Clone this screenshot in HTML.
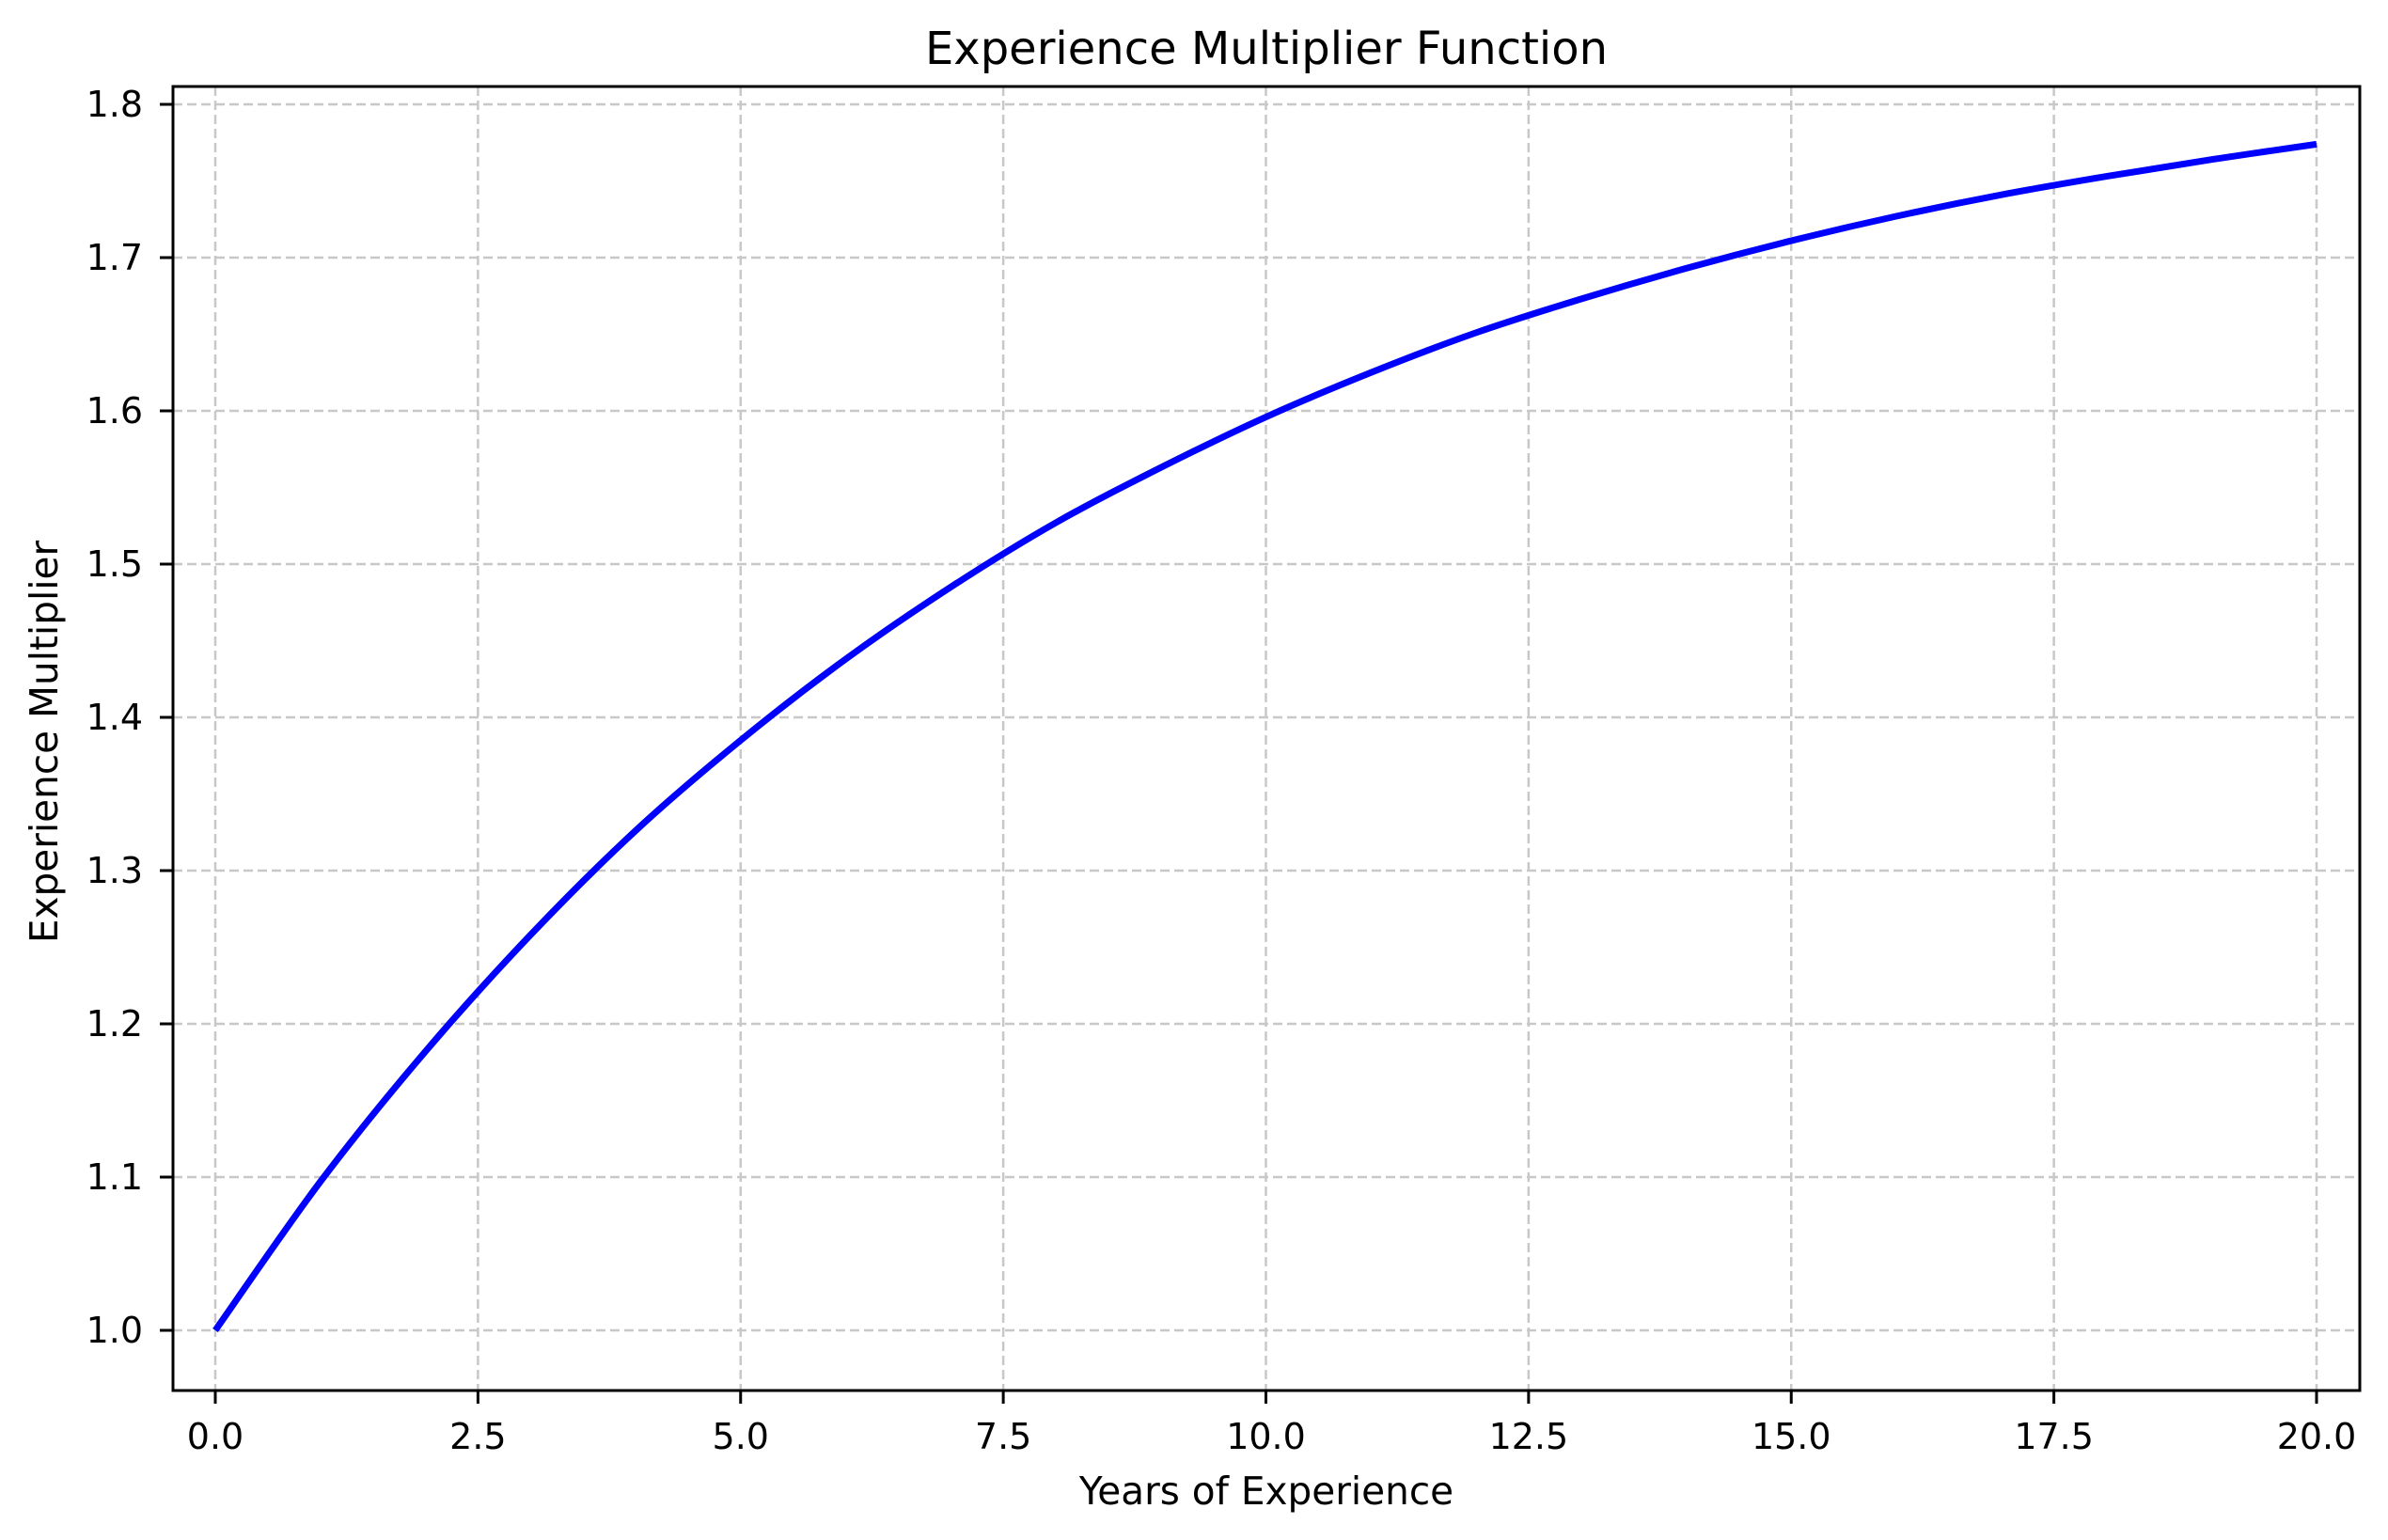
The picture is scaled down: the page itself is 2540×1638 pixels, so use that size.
<!DOCTYPE html>
<html><head><meta charset="utf-8"><style>
html,body{margin:0;padding:0;background:#fff;}
svg{display:block;font-family:"DejaVu Sans","Liberation Sans",sans-serif;}
</style></head><body>
<svg id="chart" width="2540" height="1638" viewBox="0 0 2540 1638" xmlns="http://www.w3.org/2000/svg">
<rect x="0" y="0" width="2540" height="1638" fill="#fff"/>
<text x="1347" y="68" font-size="48" text-anchor="middle" fill="#000">Experience Multiplier Function</text>
<g id="grid"></g>
<g id="series"></g>
<rect x="184" y="92" width="2326" height="1387" fill="none" stroke="#000" stroke-width="3"/>
<g id="ticks"></g>
<text x="1347" y="1600" font-size="40.6" text-anchor="middle" fill="#000">Years of Experience</text>
<text x="0" y="0" font-size="40.6" text-anchor="middle" fill="#000" transform="translate(61,789) rotate(-90)">Experience Multiplier</text>
</svg>
<script>
const years = [0,1,2,3,4,5,6,7,8,9,10,11,12,13,14,15,16,17,18,19,20];
const multiplier = [1.000,1.097,1.182,1.258,1.326,1.385,1.438,1.485,1.527,1.563,1.596,1.625,1.651,1.673,1.693,1.711,1.727,1.741,1.753,1.764,1.774];
const xTicks = [0,2.5,5,7.5,10,12.5,15,17.5,20];
const xTickLabels = ["0.0","2.5","5.0","7.5","10.0","12.5","15.0","17.5","20.0"];
const yTicks = [1.0,1.1,1.2,1.3,1.4,1.5,1.6,1.7,1.8];
const yTickLabels = ["1.0","1.1","1.2","1.3","1.4","1.5","1.6","1.7","1.8"];

const NS = "http://www.w3.org/2000/svg";
const L = 184, R = 2510, T = 92, B = 1479;
function xs(v){ return 229 + v * (2464 - 229) / 20; }
function ys(v){ return 1415 - (v - 1.0) * 1630; }

const grid = document.getElementById('grid');
const ticks = document.getElementById('ticks');
const series = document.getElementById('series');

xTicks.forEach((v, i) => {
  const x = xs(v);
  const g = document.createElementNS(NS, 'line');
  g.setAttribute('x1', x); g.setAttribute('x2', x); g.setAttribute('y1', T); g.setAttribute('y2', B);
  g.setAttribute('stroke', '#c8c8c8'); g.setAttribute('stroke-width', '2.5'); g.setAttribute('stroke-dasharray', '10 5');
  
  
  grid.appendChild(g);
  const t = document.createElementNS(NS, 'line');
  t.setAttribute('x1', x); t.setAttribute('x2', x); t.setAttribute('y1', B); t.setAttribute('y2', B + 14);
  t.setAttribute('stroke', '#000'); t.setAttribute('stroke-width', '3');
  
  
  ticks.appendChild(t);
  const lb = document.createElementNS(NS, 'text');
  lb.setAttribute('x', x); lb.setAttribute('y', 1541); lb.setAttribute('font-size', '38');
  lb.setAttribute('text-anchor', 'middle');
  lb.textContent = xTickLabels[i];
  
  
  ticks.appendChild(lb);
});

yTicks.forEach((v, i) => {
  const y = ys(v);
  const g = document.createElementNS(NS, 'line');
  g.setAttribute('x1', L); g.setAttribute('x2', R); g.setAttribute('y1', y); g.setAttribute('y2', y);
  g.setAttribute('stroke', '#c8c8c8'); g.setAttribute('stroke-width', '2.5'); g.setAttribute('stroke-dasharray', '10 5');
  
  
  grid.appendChild(g);
  const t = document.createElementNS(NS, 'line');
  t.setAttribute('x1', L - 14); t.setAttribute('x2', L); t.setAttribute('y1', y); t.setAttribute('y2', y);
  t.setAttribute('stroke', '#000'); t.setAttribute('stroke-width', '3');
  
  
  ticks.appendChild(t);
  const lb = document.createElementNS(NS, 'text');
  lb.setAttribute('x', 152); lb.setAttribute('y', y + 13); lb.setAttribute('font-size', '38');
  lb.setAttribute('text-anchor', 'end');
  lb.textContent = yTickLabels[i];
  
  
  ticks.appendChild(lb);
});

const pts = years.map((v, i) => [xs(v), ys(multiplier[i])]);
let d = 'M' + pts[0][0] + ',' + pts[0][1];
for (let i = 0; i < pts.length - 1; i++) {
  const p0 = pts[Math.max(0, i - 1)], p1 = pts[i], p2 = pts[i + 1], p3 = pts[Math.min(pts.length - 1, i + 2)];
  const c1x = p1[0] + (p2[0] - p0[0]) / 6, c1y = p1[1] + (p2[1] - p0[1]) / 6;
  const c2x = p2[0] - (p3[0] - p1[0]) / 6, c2y = p2[1] - (p3[1] - p1[1]) / 6;
  d += ' C' + c1x + ',' + c1y + ' ' + c2x + ',' + c2y + ' ' + p2[0] + ',' + p2[1];
}
const path = document.createElementNS(NS, 'path');
path.setAttribute('d', d);
path.setAttribute('fill', 'none'); path.setAttribute('stroke', '#0000ff'); path.setAttribute('stroke-width', '7');


series.appendChild(path);
</script>
</body></html>
